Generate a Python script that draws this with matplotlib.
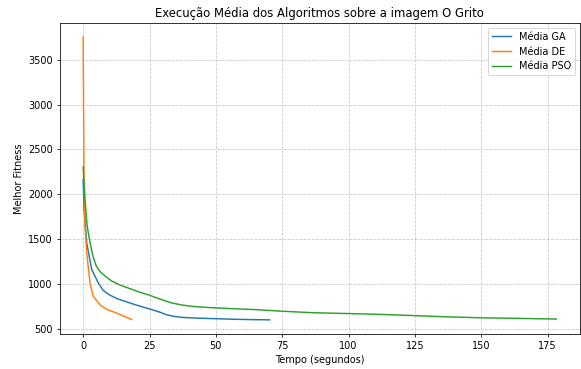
import matplotlib
matplotlib.use("Agg")
import matplotlib.pyplot as plt

# Tempo (segundos) e melhor fitness médio de cada algoritmo
tempo_ga = [0, 0.35, 1.35, 3.2, 5.7, 7.6, 10, 13.2, 16.4, 18.3, 21, 24.5, 28.9, 31, 33.9, 37, 41.5, 47.7, 56.5, 63, 70.3]
fitness_ga = [2165, 1830, 1460, 1165, 1015, 930, 880, 835, 805, 785, 760, 730, 690, 665, 644, 632, 625, 619, 611, 607, 604]

tempo_de = [0, 0.15, 0.3, 0.7, 1.35, 2.6, 3.8, 5.7, 6.4, 8.9, 12.6, 15.8, 18.3]
fitness_de = [3750, 3000, 2300, 1640, 1350, 1010, 866, 796, 770, 720, 680, 638, 608]

tempo_pso = [0, 0.7, 1.5, 2.6, 3.8, 5, 6.4, 8.5, 10.8, 14, 17.3, 21, 25, 29, 33, 37, 42, 48, 55, 65, 75, 87, 100, 112, 124, 137, 150, 165, 178.3]
fitness_pso = [2305, 1940, 1650, 1460, 1300, 1200, 1140, 1085, 1035, 990, 955, 915, 878, 835, 795, 770, 752, 740, 730, 718, 700, 683, 674, 665, 652, 638, 627, 620, 613]

dpi = 70
fig = plt.figure(figsize=(581 / dpi, 369 / dpi), dpi=dpi)
ax = fig.add_axes([59.5 / 581, 35 / 369, 520.5 / 581, 311 / 369])

ax.plot(tempo_ga, fitness_ga, label="Média GA")
ax.plot(tempo_de, fitness_de, label="Média DE")
ax.plot(tempo_pso, fitness_pso, label="Média PSO")

ax.set_title("Execução Média dos Algoritmos sobre a imagem O Grito")
ax.set_xlabel("Tempo (segundos)")
ax.set_ylabel("Melhor Fitness")
ax.grid(True, linestyle="--", alpha=0.7)
ax.legend(loc="upper right")

fig.savefig("out.png", dpi=dpi)
